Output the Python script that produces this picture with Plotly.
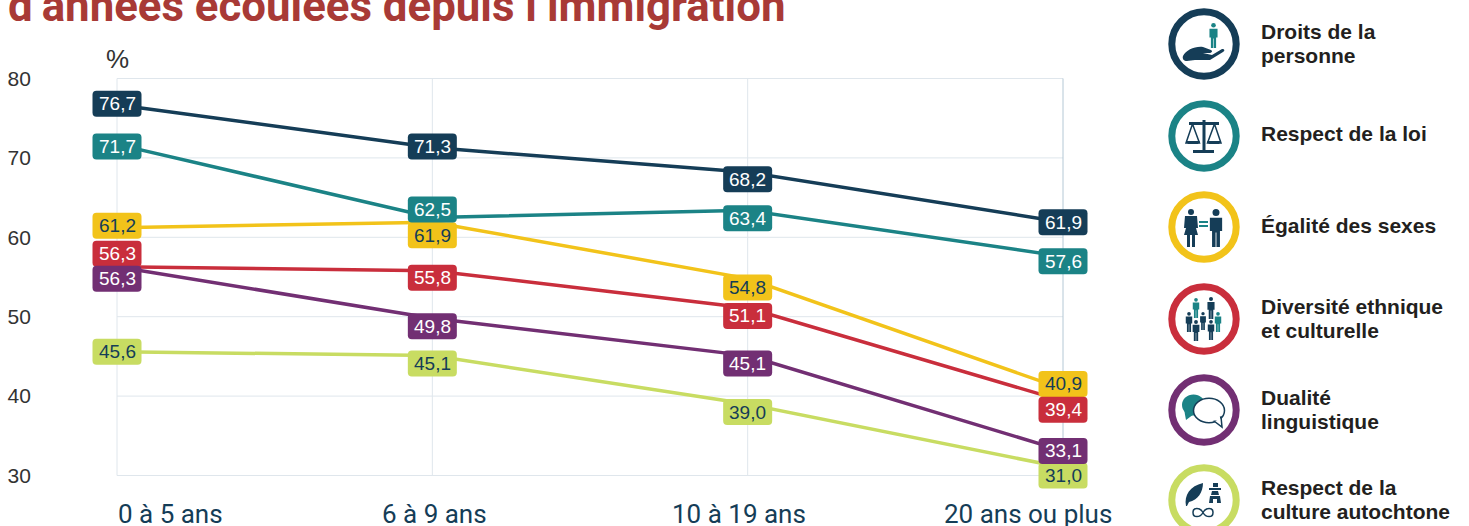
import re
import plotly.graph_objects as go

W, H = 1469, 526
categories = ["0 à 5 ans", "6 à 9 ans", "10 à 19 ans", "20 ans ou plus"]
droits = [76.7, 71.3, 68.2, 61.9]
loi = [71.7, 62.5, 63.4, 57.6]
egalite = [61.2, 61.9, 54.8, 40.9]
diversite = [56.3, 55.8, 51.1, 39.4]
dualite = [56.3, 49.8, 45.1, 33.1]
autochtone = [45.6, 45.1, 39.0, 31.0]
y_ticks = [30, 40, 50, 60, 70, 80]
legend_names = [["Droits de la", "personne"], ["Respect de la loi"], ["Égalité des sexes"],
                ["Diversité ethnique", "et culturelle"], ["Dualité", "linguistique"],
                ["Respect de la", "culture autochtone"]]

NAVY, TEAL, YELLOW, RED, PURPLE, LIME = "#153d57", "#1b8386", "#f2c31a", "#c92e3c", "#722f73", "#c8dc62"
series = [
    (egalite, YELLOW, NAVY, [2, -13, -9, 5]),
    (diversite, RED, "white", [13, -7, -8, -9]),
    (autochtone, LIME, NAVY, [0, -8, -8, -8]),
    (dualite, PURPLE, "white", [-12, -8, -8, 0]),
    (loi, TEAL, "white", [-2, 8, -8, -5]),
    (droits, NAVY, "white", [1, 1, -7, 0]),
]
x_idx = list(range(len(categories)))
GRID = "#dfe6ec"
LEFT, RIGHT, TOP, BOTTOM = 117, 1063, 78.5, 475.5
# axis ranges are padded so that the badges are not clipped by the plot area
XPAD, YPAD = 0.2, 2.0
ux = (RIGHT - LEFT) / 3
uy = (BOTTOM - TOP) / 50
dom_l, dom_r = LEFT - XPAD * ux, RIGHT + XPAD * ux
dom_t, dom_b = TOP - YPAD * uy, BOTTOM + YPAD * uy

fig = go.Figure()
for vals, col, _, _ in series:
    fig.add_trace(go.Scatter(x=x_idx, y=vals, mode="lines", line=dict(color=col, width=3.5),
                             hoverinfo="skip", showlegend=False))

shapes, annotations = [], []

# grid drawn in data coordinates
for t in y_ticks:
    shapes.append(dict(type="line", xref="x", yref="y", x0=x_idx[0], x1=x_idx[-1], y0=t, y1=t,
                       line=dict(color=GRID, width=1), layer="below"))
for i in x_idx:
    shapes.append(dict(type="line", xref="x", yref="y", x0=i, x1=i, y0=y_ticks[0], y1=y_ticks[-1],
                       line=dict(color="#b4c8d5" if i == x_idx[-1] else GRID, width=1), layer="below"))

# value badges
BW, BH, RAD = 24.5, 13, 4
badge = (f"M{-BW+RAD},{{b}} L{BW-RAD},{{b}} Q{BW},{{b}} {BW},{{b1}} L{BW},{{t1}} Q{BW},{{t}} {BW-RAD},{{t}} "
         f"L{-BW+RAD},{{t}} Q{-BW},{{t}} {-BW},{{t1}} L{-BW},{{b1}} Q{-BW},{{b}} {-BW+RAD},{{b}} Z")
for vals, col, txt, shifts in series:
    for i, v in enumerate(vals):
        s = shifts[i]
        shapes.append(dict(type="path", xref="x", yref="y", xsizemode="pixel", ysizemode="pixel",
                           xanchor=i, yanchor=v, layer="above", line=dict(width=0), fillcolor=col,
                           path=badge.format(b=s - BH, b1=s - BH + RAD, t=s + BH, t1=s + BH - RAD)))
        annotations.append(dict(x=i, y=v, xref="x", yref="y", yshift=s, showarrow=False, xanchor="center",
                                text=f"{v:.1f}".replace(".", ","),
                                font=dict(family="Liberation Sans", size=19, color=txt)))


def px_path(s):
    """Convert an absolute pixel path (page coordinates) to paper coordinates."""
    out, is_x = [], True
    for tok in re.findall(r"[MLQCZ]|-?\d+\.?\d*", s):
        if tok in "MLQCZ":
            out.append(tok)
            is_x = True
        else:
            out.append(f"{float(tok)/W:.5f}" if is_x else f"{1-float(tok)/H:.5f}")
            is_x = not is_x
    return " ".join(out)


def poly(s, fill=NAVY, line=None, lw=0):
    shapes.append(dict(type="path", xref="paper", yref="paper", path=px_path(s), fillcolor=fill,
                       line=dict(color=line or fill, width=lw), layer="above"))


def circ(cx, cy, r, fill="rgba(0,0,0,0)", line=None, lw=0, rx=None):
    rx = rx or r
    shapes.append(dict(type="circle", xref="paper", yref="paper", x0=(cx - rx) / W, x1=(cx + rx) / W,
                       y0=1 - (cy + r) / H, y1=1 - (cy - r) / H, fillcolor=fill,
                       line=dict(color=line or fill, width=lw), layer="above"))


def person(cx, top, h, col=NAVY):
    u = h / 26
    circ(cx, top + 2.4 * u, 2.4 * u, fill=col)
    poly(f"M{cx-4.2*u},{top+6*u} L{cx+4.2*u},{top+6*u} L{cx+4.2*u},{top+15*u} L{cx+2.7*u},{top+15*u} L{cx+2.7*u},{top+26*u} "
         f"L{cx+0.3*u},{top+26*u} L{cx+0.3*u},{top+16*u} L{cx-0.3*u},{top+16*u} L{cx-0.3*u},{top+26*u} "
         f"L{cx-2.7*u},{top+26*u} L{cx-2.7*u},{top+15*u} L{cx-4.2*u},{top+15*u} Z", fill=col)


# legend rings and labels
ring_y = [44, 136, 227, 319, 410, 500]
ring_col = [NAVY, TEAL, YELLOW, RED, PURPLE, LIME]
for cy, col, lines in zip(ring_y, ring_col, legend_names):
    circ(1204, cy, 32.2, fill="white", line=col, lw=7)
    for k, line_text in enumerate(lines):
        off = (k - (len(lines) - 1) / 2) * 24
        if len(lines) == 1:
            off = -2 if cy < 200 else -1
        annotations.append(dict(x=1258.5 / W, y=1 - (cy + off - 0.5) / H, xref="paper", yref="paper", xanchor="left",
                                yanchor="middle", showarrow=False, align="left", text=f"<b>{line_text}</b>",
                                font=dict(family="Liberation Sans", size=21, color="#231f20")))

# icon 1: hand and person
person(1213.5, 23, 25, TEAL)
poly("M1183,56 C1186,50 1195,46 1203,47 L1211,50 C1213,51 1212,53 1209,53 L1203,53 L1212,55 L1222,49 "
     "C1225,49 1225,51 1223,52 L1210,60 L1195,60 L1187,61 C1184,61 1182,59 1183,56 Z")
# icon 2: scales
poly("M1202.5,120 L1205.5,120 L1205.5,150 L1202.5,150 Z")
poly("M1193,150 L1214,150 L1214,153 L1193,153 Z")
poly("M1189,122 L1219,122 L1219,125 L1189,125 Z")
poly("M1186,143 L1192.5,124 L1199.5,143 Z", fill="white", line=NAVY, lw=1.5)
poly("M1207.5,143 L1214.5,124 L1221,143 Z", fill="white", line=NAVY, lw=1.5)
poly("M1186,141 L1200,141 L1198,144 L1188,144 Z")
poly("M1207,141 L1221,141 L1219,144 L1209,144 Z")
# icon 3: equality
circ(1191, 212, 3, fill=NAVY)
poly("M1185,216 L1197,216 L1198,228 L1196,228 L1198,235 L1195,235 L1195,247 L1192,247 L1192,235 L1190,235 "
     "L1190,247 L1187,247 L1187,235 L1184,235 L1186,228 L1184,228 Z")
person(1216, 209, 38)
poly("M1199,221 L1208,221 L1208,223 L1199,223 Z", fill=TEAL)
poly("M1199,225 L1208,225 L1208,227 L1199,227 Z", fill=TEAL)
# icon 4: diversity
for cx, top, h, col in [(1196, 298, 20, TEAL), (1218, 312, 20, TEAL), (1189, 312, 20, NAVY), (1203, 312, 18, NAVY),
                        (1211, 297, 22, NAVY), (1196, 320, 21, NAVY), (1211, 320, 20, NAVY)]:
    person(cx, top, h, col)
# icon 5: speech bubbles
circ(1193.5, 405, 10.5, fill=TEAL, rx=11.5)
poly("M1184,409 L1186,420 L1194,414 Z", fill=TEAL)
circ(1209, 410.5, 12.2, fill="white", line=NAVY, lw=1.5, rx=15.5)
poly("M1214,421 L1222,427 L1221,417 Z", fill="white", line=NAVY, lw=1.5)
poly("M1211,420.5 L1220,420.5 L1220,417 L1212,417 Z", fill="white")
# icon 6: feather, inukshuk, infinity
poly("M1186,506 C1184,495 1190,486 1203,483 C1203,492 1198,500 1189,502 L1187,506 Z")
poly("M1213,483 L1218,483 L1218,487 L1213,487 Z")
poly("M1209,488 L1221,488 L1221,490 L1209,490 Z")
poly("M1212,491 L1218,491 L1219,495 L1211,495 Z")
poly("M1210,496 L1220,496 L1221,503 L1217,503 L1217,499 L1213,499 L1213,503 L1209,503 Z")
poly("M1203,512.5 C1200,507 1193,507 1193,512.5 C1193,518 1200,518 1203,512.5 C1206,507 1213,507 1213,512.5 "
     "C1213,518 1206,518 1203,512.5 Z", fill="rgba(0,0,0,0)", line=NAVY, lw=1.5)

# title, unit, category labels
annotations.append(dict(x=6 / W, y=1 - 6 / H, xref="paper", yref="paper", xanchor="left", yanchor="middle",
                        showarrow=False, text="<b>d’années écoulées depuis l’immigration</b>",
                        font=dict(family="Roboto", size=43.8, color="#a83a36")))
annotations.append(dict(x=117 / W, y=1 - 59 / H, xref="paper", yref="paper", showarrow=False, text="%",
                        xanchor="center", yanchor="middle",
                        font=dict(family="Liberation Sans", size=26, color="#333333")))
cat_centres = [170, 434, 739, 1028]
for c, name in zip(cat_centres, categories):
    annotations.append(dict(x=c / W, y=1 - 514 / H, xref="paper", yref="paper", showarrow=False, text=name,
                            xanchor="center", yanchor="middle",
                            font=dict(family="Roboto", size=26, color=NAVY)))

fig.update_layout(
    width=W, height=H, margin=dict(l=0, r=0, t=0, b=0, autoexpand=False), paper_bgcolor="white", plot_bgcolor="white",
    xaxis=dict(domain=[dom_l / W, dom_r / W], range=[x_idx[0] - XPAD, x_idx[-1] + XPAD], tickvals=x_idx,
               showticklabels=False, showgrid=False, zeroline=False, showline=False, ticks=""),
    yaxis=dict(domain=[(H - dom_b) / H, (H - dom_t) / H], range=[y_ticks[0] - YPAD, y_ticks[-1] + YPAD],
               tickvals=y_ticks, showgrid=False, zeroline=False, showline=False, ticks="",
               ticklabelstandoff=int(dom_l - 31),
               tickfont=dict(family="Liberation Sans", size=21, color="#333333")),
    shapes=shapes, annotations=annotations, showlegend=False,
)
fig.write_html("out.html", config=dict(displayModeBar=False),
               post_script="document.body.style.margin='0';document.body.style.overflow='hidden';")
